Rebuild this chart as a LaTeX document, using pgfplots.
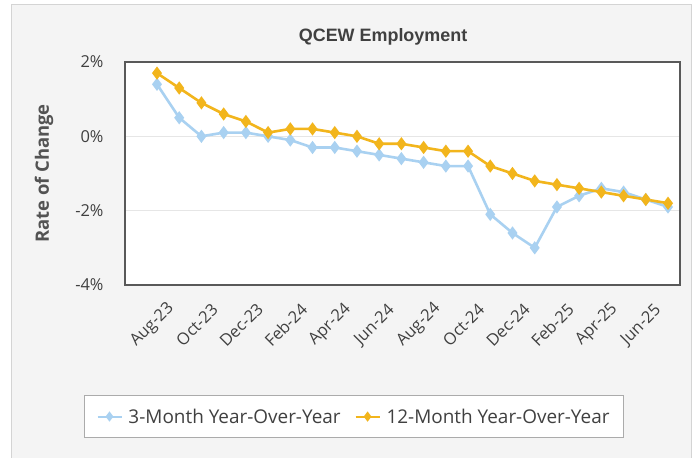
\documentclass[border=0pt]{standalone}
\usepackage{fontspec}
\setmainfont{Open Sans}
\newfontfamily\titlefont{Liberation Sans}
\usepackage{pgfplots}
\pgfplotsset{compat=1.18}

\definecolor{threemo}{HTML}{A9D1F1}
\definecolor{twelvemo}{HTML}{F2B51C}
\definecolor{panelbg}{HTML}{F4F4F4}
\definecolor{panelline}{HTML}{D4D4D4}
\definecolor{frame}{HTML}{595959}
\definecolor{gridc}{HTML}{E6E6E6}
\definecolor{txt}{HTML}{404040}

\pgfplotstableread{
idx three twelve
0   1.4   1.7
1   0.5   1.3
2   0.0   0.9
3   0.1   0.6
4   0.1   0.4
5   0.0   0.1
6  -0.1   0.2
7  -0.3   0.2
8  -0.3   0.1
9  -0.4   0.0
10 -0.5  -0.2
11 -0.6  -0.2
12 -0.7  -0.3
13 -0.8  -0.4
14 -0.8  -0.4
15 -2.1  -0.8
16 -2.6  -1.0
17 -3.0  -1.2
18 -1.9  -1.3
19 -1.6  -1.4
20 -1.4  -1.5
21 -1.5  -1.6
22 -1.7  -1.7
23 -1.9  -1.8
}\qcew

\begin{document}
\begin{tikzpicture}[x=1bp,y=1bp]
\useasboundingbox (0,0) rectangle (696,458);
\fill[white] (0,0) rectangle (696,458);
\filldraw[fill=panelbg, draw=panelline, line width=1bp] (11,-2) rectangle (691,453);
\begin{axis}[
    at={(125bp,173bp)}, anchor=south west,
    width=555bp, height=223bp, scale only axis,
    xmin=-1.44, xmax=23.54,
    ymin=-4, ymax=2,
    ytick={-4,-2,0,2},
    yticklabel={\pgfmathprintnumber{\tick}\%},
    xtick={0,2,...,22},
    xticklabels={Aug-23,Oct-23,Dec-23,Feb-24,Apr-24,Jun-24,Aug-24,Oct-24,Dec-24,Feb-25,Apr-25,Jun-25},
    /pgf/number format/assume math mode=true,
    major tick length=0pt,
    axis line style={frame, line width=2.2bp},
    axis background/.style={fill=white},
    ymajorgrids,
    grid style={gridc, line width=1bp},
    tick label style={font=\fontsize{16.5}{19}\selectfont, text=txt},
    yticklabel style={anchor=east, xshift=-18bp},
    xticklabel style={xshift=-4.5bp, yshift=-40bp, rotate=45, anchor=center},
    title={QCEW Employment},
    title style={font=\titlefont\bfseries\fontsize{18}{20}\selectfont, text=txt, at={(0.465,1.112)}, anchor=center, yshift=-6pt},
    ylabel={Rate of Change},
    every axis y label/.style={at={(rel axis cs:-0.146,0.5)}, rotate=90, anchor=center, font=\bfseries\fontsize{18.5}{20}\selectfont, text=txt!90},
    legend columns=2,
    legend cell align=left,
    legend style={at={(0.4126,-0.59)}, anchor=center, draw=black!33, fill=white, line width=1bp,
        font=\fontsize{19}{21}\selectfont, text=txt,
        inner xsep=12bp, inner ysep=11bp,
        /tikz/every odd column/.append style={column sep=4bp},
        /tikz/every even column/.append style={column sep=12bp}},
    legend image code/.code={
        \draw[line width=2bp, mark size=3.5bp, mark repeat=2, mark phase=2] plot coordinates {(0bp,0bp) (12bp,0bp) (24bp,0bp)};},
]
\addplot[threemo, line width=2.6bp, mark=diamond*, mark size=4.5bp, mark options={solid}] table[x=idx, y=three] {\qcew};
\addlegendentry{3-Month Year-Over-Year}
\addplot[twelvemo, line width=2.6bp, mark=diamond*, mark size=4.5bp, mark options={solid}] table[x=idx, y=twelve] {\qcew};
\addlegendentry{12-Month Year-Over-Year}
\end{axis}
\end{tikzpicture}
\end{document}
